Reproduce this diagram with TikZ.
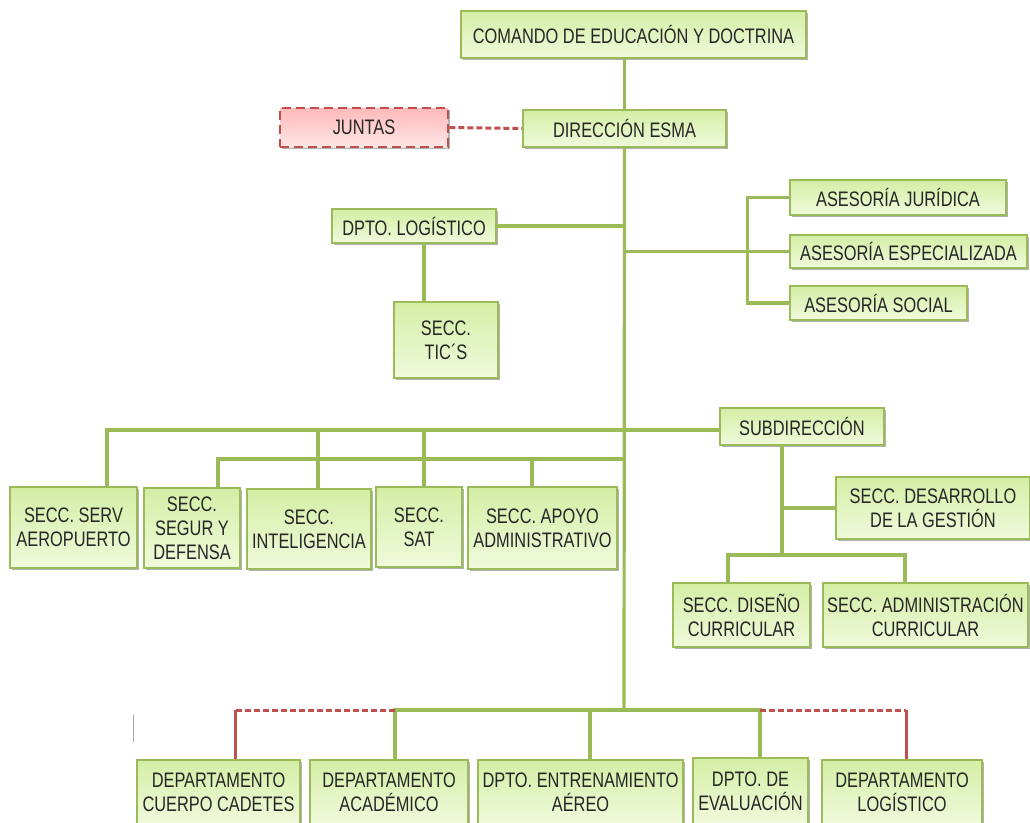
\documentclass[tikz,border=0pt]{standalone}
\usepackage{fontspec}
\setmainfont{Liberation Sans}[FakeStretch=0.78]
\usetikzlibrary{positioning,shadows}
\tikzset{
        unit/.style={
            rectangle, draw=leafgreen, line width=1.5pt,
            top color=boxtop, bottom color=boxbottom,
            text=black!85, align=center, inner sep=0pt,
            font=\fontsize{21}{24}\selectfont,
            drop shadow={shadow xshift=1.5pt, shadow yshift=-2pt,
                opacity=.3, fill=black}
        },
        board/.style={
            unit, draw=alertred, line width=2.6pt,
            dash pattern=on 9pt off 5pt,
            top color=pinktop, bottom color=pinkbottom
        },
        wh/.style 2 args={
            minimum width=#1pt, minimum height=#2pt
        },
        link/.style={
            draw=leafgreen, line width=3.2pt
        },
        redlink/.style={
            draw=alertred, line width=3pt
        },
        reddash/.style={
            redlink, dash pattern=on 6pt off 3pt
        }
    }
\definecolor{leafgreen}{RGB}{155,187,89}
\definecolor{boxtop}{RGB}{212,238,165}
\definecolor{boxbottom}{RGB}{240,250,220}
\definecolor{alertred}{RGB}{192,80,77}
\definecolor{pinktop}{RGB}{255,185,185}
\definecolor{pinkbottom}{RGB}{255,230,230}

\begin{document}
\begin{tikzpicture}[x=1pt, y=-1pt]
    \useasboundingbox (0,0) rectangle (1030,822);
    \clip (0,0) rectangle (1030,822);

    \node[unit, wh={345}{47}] (comando) at (633.5,34.5) {COMANDO DE EDUCACIÓN Y DOCTRINA};
    \node[unit, wh={203}{37}] (direccion) at (624.5,128.5) {DIRECCIÓN ESMA};
    \node[board, wh={168}{39}] (juntas) at (364,127.5) {JUNTAS};
    \node[unit, wh={164}{34}] (dptolog) at (414,226) {DPTO. LOGÍSTICO};
    \node[unit, wh={104}{76}] (tics) at (446,340) {SECC.\\TIC´S};
    \node[unit, wh={216}{35}] (juridica) at (898,197.5) {ASESORÍA JURÍDICA};
    \node[unit, wh={237}{33}] (especial) at (908.5,251.5) {ASESORÍA ESPECIALIZADA};
    \node[unit, wh={177}{34}] (social) at (878.5,303) {ASESORÍA SOCIAL};
    \node[unit, wh={164}{37}] (subdir) at (802,426.5) {SUBDIRECCIÓN};

    \node[unit, wh={127}{81}] (serv) at (73.5,527.5) {SECC. SERV\\AEROPUERTO};
    \node[unit, wh={96}{80}] (segur) at (192,528) {SECC.\\SEGUR Y\\DEFENSA};
    \node[unit, wh={124}{80}] (intel) at (309,529) {SECC.\\INTELIGENCIA};
    \node[unit, wh={86}{80}] (sat) at (419,527) {SECC.\\SAT};
    \node[unit, wh={149}{82}] (apoyo) at (542.5,528) {SECC. APOYO\\ADMINISTRATIVO};

    \node[unit, wh={194}{62}] (desarrollo) at (933,508) {SECC. DESARROLLO\\DE LA GESTIÓN};
    \node[unit, wh={137}{64}] (diseno) at (741.5,615) {SECC. DISEÑO\\CURRICULAR};
    \node[unit, wh={205}{64}] (admcur) at (925.5,615) {SECC. ADMINISTRACIÓN\\CURRICULAR};

    \node[unit, wh={163}{64}] (cadetes) at (218.5,792) {DEPARTAMENTO\\CUERPO CADETES};
    \node[unit, wh={158}{64}] (academico) at (389,792) {DEPARTAMENTO\\ACADÉMICO};
    \node[unit, wh={205}{64}] (entrena) at (580.5,792) {DPTO. ENTRENAMIENTO\\AÉREO};
    \node[unit, wh={115}{66}] (evalua) at (750.5,791) {DPTO. DE\\EVALUACIÓN};
    \node[unit, wh={160}{64}] (deplog) at (902,792) {DEPARTAMENTO\\LOGÍSTICO};

    \coordinate (busA) at (624,430);
    \coordinate (busB) at (624,459);
    \coordinate (busC) at (624,710);
    \coordinate (subJ) at (782,555);
    \coordinate (dCad) at ([xshift=16.5pt]cadetes.north);
    \coordinate (dAca) at ([xshift=6pt]academico.north);
    \coordinate (dEnt) at ([xshift=9.5pt]entrena.north);
    \coordinate (dEva) at ([xshift=9.5pt]evalua.north);
    \coordinate (dLog) at ([xshift=4pt]deplog.north);

    \draw[link] (direccion.north) -- (direccion.north |- comando.south);
    \draw[reddash] (juntas.east) -- (direccion.west);
    \draw[link] (direccion.south) -- (busC);
    \draw[link] (dptolog.east) -- (dptolog.east -| direccion.south);
    \draw[link] ([xshift=10pt]dptolog.south) -- ([xshift=10pt]dptolog.south |- tics.north);
    \draw[link] (direccion.south |- especial.west) -- (especial.west);
    \draw[link] (juridica.west) -- ++(-42,0) |- (social.west);

    \draw[link] ([xshift=33.5pt]serv.north) |- (subdir.west |- busA);
    \foreach \n/\s in {intel/9, sat/5}
        \draw[link] ([xshift=\s pt]\n.north) -- ([xshift=\s pt]\n.north |- busA);
    \draw[link] ([xshift=26pt]segur.north) |- (busB);
    \draw[link] ([xshift=-10.5pt]apoyo.north) -- ([xshift=-10.5pt]apoyo.north |- busB);

    \draw[link] ([xshift=-20pt]subdir.south) -- (subJ);
    \draw[link] (desarrollo.west) -- (desarrollo.west -| subJ);
    \draw[link] ([xshift=-13.5pt]diseno.north) |- (subJ) -| ([xshift=-20.5pt]admcur.north);

    \draw[link] (dAca) |- (dEva |- busC) -- (dEva);
    \draw[link] (dEnt) -- (dEnt |- busC);
    \draw[reddash] (dAca |- busC) -- (dCad |- busC);
    \draw[reddash] (dEva |- busC) -- (dLog |- busC);
    \draw[redlink] (dCad |- busC) -- (dCad);
    \draw[redlink] (dLog |- busC) -- (dLog);

    \draw[black!35, line width=1pt] (133,715) -- (133,742);
\end{tikzpicture}
\end{document}
